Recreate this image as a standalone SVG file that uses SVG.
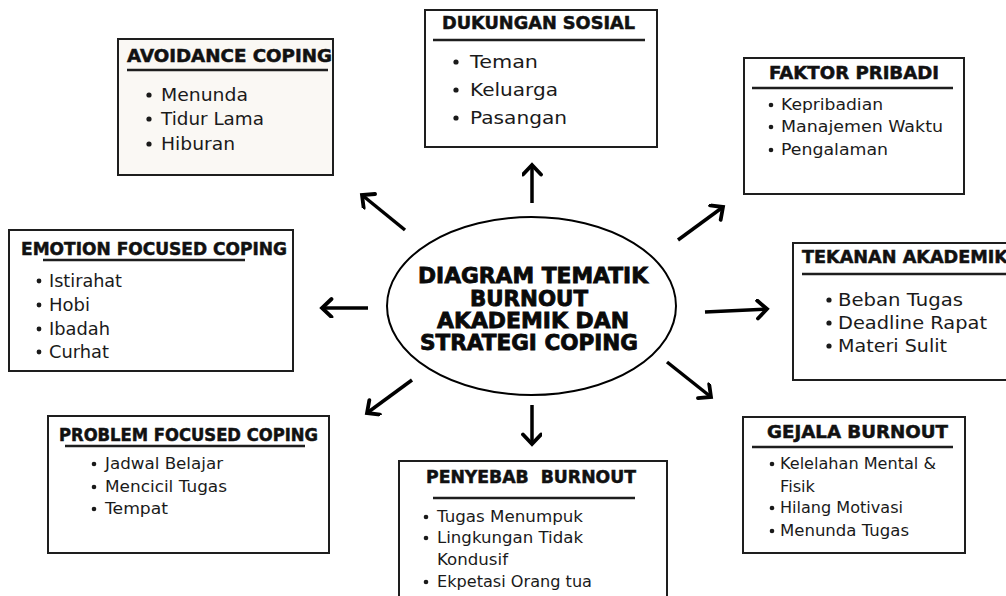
<svg xmlns="http://www.w3.org/2000/svg" width="1006" height="596" viewBox="0 0 1006 596">
<defs>
<style>
.box{fill:#ffffff;stroke:#1e1e1e;stroke-width:2}
.ul{stroke:#1e1e1e;stroke-width:2.5}
.t{font-family:"DejaVu Sans","Liberation Sans",sans-serif;font-weight:bold;font-size:17px;fill:#111;stroke:#111;stroke-width:0.5}
.i{font-family:"DejaVu Sans","Liberation Sans",sans-serif;font-size:16px;fill:#1a1a1a}
.b{font-size:18px}
.e{font-size:17px}
.c{font-family:"DejaVu Sans","Liberation Sans",sans-serif;font-weight:bold;font-size:21px;fill:#0a0a0a;stroke:#0a0a0a;stroke-width:0.8}
.dot{fill:#1a1a1a}
.arr{stroke:#000;stroke-width:3.5;fill:none;marker-end:url(#head)}
</style>
<marker id="head" markerUnits="userSpaceOnUse" markerWidth="24" markerHeight="24" refX="12" refY="10" orient="auto">
<path d="M2.5,1 L12,10 L2.5,19" fill="none" stroke="#000" stroke-width="3.8" stroke-linecap="round" stroke-linejoin="miter"/>
</marker>
</defs>
<rect width="1006" height="596" fill="#ffffff"/>

<g id="connectors">
<line class="arr" x1="532" y1="203" x2="532" y2="165"/>
<line class="arr" x1="405" y1="230" x2="362" y2="195"/>
<line class="arr" x1="678" y1="240" x2="723" y2="207"/>
<line class="arr" x1="368" y1="308" x2="322" y2="308"/>
<line class="arr" x1="705" y1="312" x2="767" y2="309"/>
<line class="arr" x1="412" y1="380" x2="367" y2="413"/>
<line class="arr" x1="667" y1="362" x2="711" y2="397"/>
<line class="arr" x1="532" y1="405" x2="532" y2="444"/>
</g>

<g id="center">
<ellipse cx="531.5" cy="306" rx="144.5" ry="89" fill="#fff" stroke="#000" stroke-width="2"/>
<text class="c" x="418" y="283" textLength="230" lengthAdjust="spacingAndGlyphs">DIAGRAM TEMATIK</text>
<text class="c" x="470" y="306" textLength="118" lengthAdjust="spacingAndGlyphs">BURNOUT</text>
<text class="c" x="437" y="328" textLength="192" lengthAdjust="spacingAndGlyphs">AKADEMIK DAN</text>
<text class="c" x="420" y="350" textLength="218" lengthAdjust="spacingAndGlyphs">STRATEGI COPING</text>
</g>

<g id="avoidance">
<rect class="box" x="118" y="39" width="215" height="136" style="fill:#faf8f4"/>
<text class="t" x="127" y="62" textLength="205" lengthAdjust="spacingAndGlyphs">AVOIDANCE COPING</text>
<line class="ul" x1="127" y1="70" x2="328" y2="70"/>
<circle class="dot" cx="149" cy="95" r="2.6"/>
<circle class="dot" cx="149" cy="119" r="2.6"/>
<circle class="dot" cx="149" cy="144" r="2.6"/>
<text class="i b" x="161" y="101" textLength="87" lengthAdjust="spacingAndGlyphs">Menunda</text>
<text class="i b" x="161" y="125" textLength="103" lengthAdjust="spacingAndGlyphs">Tidur Lama</text>
<text class="i b" x="161" y="150" textLength="74" lengthAdjust="spacingAndGlyphs">Hiburan</text>
</g>

<g id="dukungan">
<rect class="box" x="425" y="10" width="232" height="137"/>
<text class="t" x="442" y="29" textLength="193" lengthAdjust="spacingAndGlyphs">DUKUNGAN SOSIAL</text>
<line class="ul" x1="433" y1="40" x2="645" y2="40"/>
<circle class="dot" cx="456" cy="62" r="2.6"/>
<circle class="dot" cx="456" cy="90" r="2.6"/>
<circle class="dot" cx="456" cy="118" r="2.6"/>
<text class="i b" x="470" y="68" textLength="68" lengthAdjust="spacingAndGlyphs">Teman</text>
<text class="i b" x="470" y="96" textLength="88" lengthAdjust="spacingAndGlyphs">Keluarga</text>
<text class="i b" x="470" y="124" textLength="97" lengthAdjust="spacingAndGlyphs">Pasangan</text>
</g>

<g id="faktor">
<rect class="box" x="744" y="58" width="220" height="136"/>
<text class="t" x="769" y="79" textLength="170" lengthAdjust="spacingAndGlyphs">FAKTOR PRIBADI</text>
<line class="ul" x1="752" y1="88" x2="953" y2="88"/>
<circle class="dot" cx="771" cy="105" r="2.3"/>
<circle class="dot" cx="771" cy="127" r="2.3"/>
<circle class="dot" cx="771" cy="150" r="2.3"/>
<text class="i" x="781" y="110" textLength="102" lengthAdjust="spacingAndGlyphs">Kepribadian</text>
<text class="i" x="781" y="132" textLength="162" lengthAdjust="spacingAndGlyphs">Manajemen Waktu</text>
<text class="i" x="781" y="155" textLength="107" lengthAdjust="spacingAndGlyphs">Pengalaman</text>
</g>

<g id="emotion">
<rect class="box" x="9" y="230" width="284" height="141"/>
<text class="t" x="21" y="255" textLength="266" lengthAdjust="spacingAndGlyphs">EMOTION FOCUSED COPING</text>
<line class="ul" x1="43" y1="260" x2="245" y2="260"/>
<circle class="dot" cx="39" cy="281" r="2.4"/>
<circle class="dot" cx="39" cy="305" r="2.4"/>
<circle class="dot" cx="39" cy="329" r="2.4"/>
<circle class="dot" cx="39" cy="352" r="2.4"/>
<text class="i e" x="49" y="287" textLength="73" lengthAdjust="spacingAndGlyphs">Istirahat</text>
<text class="i e" x="49" y="311" textLength="41" lengthAdjust="spacingAndGlyphs">Hobi</text>
<text class="i e" x="49" y="335" textLength="61" lengthAdjust="spacingAndGlyphs">Ibadah</text>
<text class="i e" x="49" y="358" textLength="60" lengthAdjust="spacingAndGlyphs">Curhat</text>
</g>

<g id="tekanan">
<rect class="box" x="793" y="243" width="220" height="137"/>
<text class="t" x="802" y="263" textLength="206" lengthAdjust="spacingAndGlyphs">TEKANAN AKADEMIK</text>
<line class="ul" x1="802" y1="274" x2="1006" y2="274"/>
<circle class="dot" cx="829" cy="300" r="2.6"/>
<circle class="dot" cx="829" cy="323" r="2.6"/>
<circle class="dot" cx="829" cy="346" r="2.6"/>
<text class="i b" x="838" y="306" textLength="125" lengthAdjust="spacingAndGlyphs">Beban Tugas</text>
<text class="i b" x="838" y="329" textLength="149" lengthAdjust="spacingAndGlyphs">Deadline Rapat</text>
<text class="i b" x="838" y="352" textLength="109" lengthAdjust="spacingAndGlyphs">Materi Sulit</text>
</g>

<g id="problem">
<rect class="box" x="48" y="416" width="281" height="137"/>
<text class="t" x="59" y="441" textLength="259" lengthAdjust="spacingAndGlyphs">PROBLEM FOCUSED COPING</text>
<line class="ul" x1="65" y1="446" x2="305" y2="446"/>
<circle class="dot" cx="94" cy="464" r="2.3"/>
<circle class="dot" cx="94" cy="487" r="2.3"/>
<circle class="dot" cx="94" cy="509" r="2.3"/>
<text class="i" x="105" y="469" textLength="118" lengthAdjust="spacingAndGlyphs">Jadwal Belajar</text>
<text class="i" x="105" y="492" textLength="122" lengthAdjust="spacingAndGlyphs">Mencicil Tugas</text>
<text class="i" x="105" y="514" textLength="63" lengthAdjust="spacingAndGlyphs">Tempat</text>
</g>

<g id="penyebab">
<rect class="box" x="399" y="461" width="268" height="145"/>
<text class="t" x="426" y="483" textLength="210" lengthAdjust="spacingAndGlyphs" xml:space="preserve">PENYEBAB  BURNOUT</text>
<line class="ul" x1="433" y1="498" x2="635" y2="498"/>
<circle class="dot" cx="426" cy="517" r="2.3"/>
<circle class="dot" cx="426" cy="538" r="2.3"/>
<circle class="dot" cx="426" cy="582" r="2.3"/>
<text class="i" x="437" y="522" textLength="146" lengthAdjust="spacingAndGlyphs">Tugas Menumpuk</text>
<text class="i" x="437" y="543" textLength="146" lengthAdjust="spacingAndGlyphs">Lingkungan Tidak</text>
<text class="i" x="437" y="565" textLength="71" lengthAdjust="spacingAndGlyphs">Kondusif</text>
<text class="i" x="437" y="587" textLength="155" lengthAdjust="spacingAndGlyphs">Ekpetasi Orang tua</text>
</g>

<g id="gejala">
<rect class="box" x="743" y="417" width="222" height="136"/>
<text class="t" x="767" y="438" textLength="181" lengthAdjust="spacingAndGlyphs">GEJALA BURNOUT</text>
<line class="ul" x1="752" y1="447" x2="953" y2="447"/>
<circle class="dot" cx="772" cy="464" r="2.3"/>
<circle class="dot" cx="772" cy="508" r="2.3"/>
<circle class="dot" cx="772" cy="531" r="2.3"/>
<text class="i" x="780" y="469" textLength="156" lengthAdjust="spacingAndGlyphs">Kelelahan Mental &amp;</text>
<text class="i" x="780" y="492" textLength="35" lengthAdjust="spacingAndGlyphs">Fisik</text>
<text class="i" x="780" y="513" textLength="123" lengthAdjust="spacingAndGlyphs">Hilang Motivasi</text>
<text class="i" x="780" y="536" textLength="129" lengthAdjust="spacingAndGlyphs">Menunda Tugas</text>
</g>
</svg>
